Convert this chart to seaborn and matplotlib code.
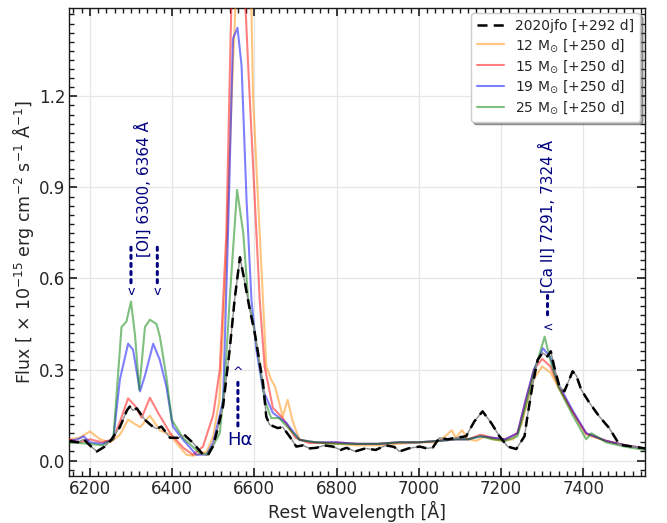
import numpy as np
import pandas as pd
import matplotlib
matplotlib.use("Agg")
import matplotlib.pyplot as plt
from matplotlib.ticker import AutoMinorLocator
import seaborn as sns

# ---------------- data ----------------
obs_wl = [6150, 6170, 6185, 6200, 6217, 6235, 6250, 6273, 6290, 6297, 6305, 6314, 6334, 6350,
          6362, 6374, 6395, 6415, 6431, 6451, 6475, 6487, 6499, 6508, 6524, 6540, 6552, 6565,
          6575, 6589, 6601, 6613, 6621, 6629, 6637, 6657, 6669, 6686, 6702, 6718, 6735, 6751,
          6770, 6791, 6810, 6824, 6845, 6870, 6895, 6920, 6940, 6953, 6975, 7002, 7020, 7034,
          7050, 7070, 7090, 7115, 7135, 7155, 7176, 7196, 7216, 7237, 7257, 7264, 7276, 7289,
          7301, 7313, 7321, 7329, 7342, 7354, 7374, 7383, 7395, 7415, 7439, 7463, 7488, 7519, 7550]
obs_flux = [0.065, 0.060, 0.070, 0.050, 0.030, 0.045, 0.065, 0.110, 0.165, 0.178, 0.165, 0.172, 0.134, 0.115,
            0.105, 0.112, 0.075, 0.075, 0.083, 0.058, 0.020, 0.017, 0.046, 0.090, 0.180, 0.365, 0.530, 0.670,
            0.600, 0.497, 0.420, 0.320, 0.257, 0.145, 0.118, 0.107, 0.110, 0.079, 0.046, 0.050, 0.040, 0.042,
            0.050, 0.046, 0.035, 0.042, 0.030, 0.040, 0.035, 0.050, 0.045, 0.030, 0.040, 0.046, 0.040, 0.043,
            0.075, 0.070, 0.075, 0.080, 0.129, 0.162, 0.124, 0.080, 0.046, 0.038, 0.080, 0.145, 0.244, 0.332,
            0.355, 0.343, 0.360, 0.310, 0.244, 0.228, 0.294, 0.280, 0.233, 0.190, 0.145, 0.107, 0.052, 0.046, 0.040]

m12_wl = [6150, 6175, 6200, 6225, 6250, 6273, 6293, 6310, 6322, 6346, 6370, 6395, 6415, 6435, 6451,
          6484, 6500, 6515, 6530, 6545, 6560, 6590, 6597, 6609, 6621, 6629, 6641, 6650, 6669, 6681,
          6693, 6710, 6740, 6800, 6850, 6900, 6950, 7000, 7040, 7060, 7080, 7090, 7105, 7120, 7140,
          7160, 7180, 7200, 7230, 7250, 7265, 7280, 7300, 7320, 7340, 7374, 7407, 7455, 7504, 7550]
m12_flux = [0.070, 0.075, 0.096, 0.070, 0.060, 0.085, 0.135, 0.120, 0.110, 0.148, 0.100, 0.085, 0.050, 0.019, 0.016,
            0.030, 0.080, 0.200, 0.600, 1.200, 1.700, 1.700, 1.190, 0.860, 0.530, 0.310, 0.266, 0.245, 0.145, 0.200,
            0.130, 0.068, 0.060, 0.055, 0.050, 0.050, 0.055, 0.060, 0.060, 0.075, 0.100, 0.075, 0.100, 0.070, 0.065,
            0.080, 0.070, 0.065, 0.070, 0.120, 0.200, 0.270, 0.310, 0.290, 0.240, 0.160, 0.085, 0.065, 0.050, 0.040]

m15_wl = [6150, 6175, 6200, 6230, 6257, 6275, 6293, 6310, 6326, 6346, 6366, 6395, 6427, 6451, 6475,
          6500, 6516, 6532, 6544, 6560, 6575, 6585, 6601, 6613, 6625, 6645, 6669, 6700, 6733, 6800,
          6850, 6900, 6950, 7000, 7050, 7090, 7120, 7150, 7180, 7210, 7240, 7260, 7280, 7300, 7320,
          7340, 7374, 7407, 7455, 7504, 7550]
m15_flux = [0.070, 0.060, 0.070, 0.060, 0.070, 0.135, 0.205, 0.180, 0.141, 0.207, 0.157, 0.091, 0.042, 0.019, 0.046,
            0.150, 0.300, 0.750, 1.500, 1.750, 1.600, 1.300, 0.860, 0.530, 0.310, 0.174, 0.140, 0.075, 0.058, 0.060,
            0.055, 0.055, 0.060, 0.060, 0.065, 0.070, 0.070, 0.085, 0.075, 0.070, 0.090, 0.200, 0.300, 0.335, 0.310,
            0.245, 0.160, 0.090, 0.065, 0.050, 0.040]

m19_wl = [6150, 6170, 6185, 6200, 6230, 6257, 6273, 6293, 6305, 6322, 6334, 6354, 6370, 6386, 6402,
          6427, 6459, 6484, 6500, 6516, 6524, 6536, 6548, 6559, 6569, 6581, 6593, 6605, 6621, 6645,
          6678, 6710, 6750, 6800, 6850, 6900, 6950, 7000, 7050, 7090, 7120, 7150, 7180, 7210, 7240,
          7260, 7280, 7302, 7320, 7340, 7374, 7407, 7455, 7504, 7550]
m19_flux = [0.065, 0.070, 0.080, 0.060, 0.055, 0.070, 0.267, 0.385, 0.365, 0.228, 0.280, 0.385, 0.332, 0.244, 0.112,
            0.068, 0.019, 0.020, 0.060, 0.150, 0.200, 0.750, 1.390, 1.426, 1.300, 0.860, 0.530, 0.365, 0.233, 0.157,
            0.124, 0.068, 0.060, 0.060, 0.055, 0.055, 0.060, 0.060, 0.065, 0.070, 0.070, 0.080, 0.075, 0.070, 0.090,
            0.200, 0.300, 0.370, 0.340, 0.250, 0.165, 0.090, 0.065, 0.050, 0.040]

m25_wl = [6150, 6200, 6230, 6257, 6277, 6289, 6300, 6310, 6320, 6334, 6346, 6362, 6370, 6386, 6399,
          6427, 6467, 6484, 6500, 6516, 6528, 6540, 6558, 6573, 6585, 6597, 6609, 6625, 6641, 6660,
          6681, 6710, 6750, 6800, 6850, 6900, 6950, 7000, 7050, 7090, 7120, 7150, 7180, 7210, 7240,
          7260, 7280, 7306, 7320, 7340, 7374, 7407, 7420, 7455, 7504, 7550]
m25_flux = [0.060, 0.055, 0.050, 0.070, 0.440, 0.458, 0.524, 0.410, 0.233, 0.440, 0.464, 0.450, 0.410, 0.277, 0.134,
            0.074, 0.025, 0.020, 0.050, 0.090, 0.257, 0.530, 0.892, 0.750, 0.530, 0.454, 0.355, 0.200, 0.140, 0.140,
            0.110, 0.068, 0.060, 0.055, 0.055, 0.055, 0.060, 0.060, 0.065, 0.070, 0.070, 0.080, 0.070, 0.065, 0.080,
            0.180, 0.290, 0.408, 0.330, 0.240, 0.150, 0.070, 0.090, 0.060, 0.045, 0.035]

labels = ["2020jfo [+292 d]", r"12 M$_{\odot}$ [+250 d]", r"15 M$_{\odot}$ [+250 d]",
          r"19 M$_{\odot}$ [+250 d]", r"25 M$_{\odot}$ [+250 d]"]
xticks = [6200, 6400, 6600, 6800, 7000, 7200, 7400]
yticks = [0.0, 0.3, 0.6, 0.9, 1.2]

# ---------------- style ----------------
sns.set_theme(style="ticks")
plt.rcParams["font.family"] = ["DejaVu Sans"]

fig = plt.figure(figsize=(6.67, 5.23), dpi=100)
ax = fig.add_axes([0.1039, 0.0904, 0.967 - 0.1039, 0.984 - 0.0904])

model_specs = [(m12_wl, m12_flux, "darkorange", labels[1]),
               (m15_wl, m15_flux, "red", labels[2]),
               (m19_wl, m19_flux, "blue", labels[3]),
               (m25_wl, m25_flux, "green", labels[4])]
for wl, fl, col, lab in model_specs:
    sns.lineplot(x=wl, y=fl, ax=ax, color=col, alpha=0.5, lw=1.5, label=lab, zorder=3)

sns.lineplot(x=obs_wl, y=obs_flux, ax=ax, color="0.55", lw=1.0, zorder=4)
sns.lineplot(x=obs_wl, y=obs_flux, ax=ax, color="black", lw=1.8, ls=(0, (4, 2.5)),
             label=labels[0], zorder=5)

ax.set_xlim(6150, 7550)
ax.set_ylim(-0.05, 1.49)
ax.set_xticks(xticks)
ax.set_yticks(yticks)
ax.xaxis.set_minor_locator(AutoMinorLocator(10))
ax.yaxis.set_minor_locator(AutoMinorLocator(10))
ax.tick_params(which="both", direction="in", top=True, right=True, colors="0.1",
               labelcolor="0.15", labelsize=12, pad=3)
ax.tick_params(which="major", length=6, width=1.2)
ax.tick_params(which="minor", length=3.5, width=1.0)
ax.grid(True, which="major", color="#e6e6e6", lw=0.9)
ax.set_axisbelow(True)
for s in ax.spines.values():
    s.set_color("0.1")
    s.set_linewidth(1.0)

ax.set_xlabel("Rest Wavelength [Å]", fontsize=12.5, color="0.15", labelpad=2)
ax.set_ylabel(r"Flux [ $\times$ 10$^{-15}$ erg cm$^{-2}$ s$^{-1}$ Å$^{-1}$]", fontsize=12.5,
              color="0.15", labelpad=2)

h, l = ax.get_legend_handles_labels()
order = [l.index(x) for x in labels]
leg = ax.legend([h[i] for i in order], [l[i] for i in order], loc="upper right",
                fontsize=10, frameon=True, shadow=True, fancybox=True, framealpha=1,
                borderaxespad=0.35, handlelength=2.0, labelspacing=0.3, borderpad=0.4)
leg.get_frame().set_edgecolor("0.8")

# ---------------- annotations ----------------
navy = "navy"
ax.text(6330, 0.672, "[OI] 6300, 6364 Å", rotation=90, ha="center", va="bottom",
        color=navy, fontsize=11)
for xl in (6300, 6364):
    ax.annotate("", xy=(xl, 0.575), xytext=(xl, 0.712),
                arrowprops=dict(arrowstyle="-", ls=":", lw=2.2, color=navy))
    ax.text(xl, 0.558, "v", ha="center", va="center", color=navy, fontsize=9)

ax.text(6565, 0.068, "Hα", ha="center", va="center", color=navy, fontsize=13)
ax.annotate("", xy=(6560, 0.275), xytext=(6560, 0.105),
            arrowprops=dict(arrowstyle="-", ls=":", lw=2.2, color=navy))
ax.text(6560, 0.29, "^", ha="center", va="center", color=navy, fontsize=9)

ax.text(7313, 0.553, "[Ca II] 7291, 7324 Å", rotation=90, ha="center", va="bottom",
        color=navy, fontsize=11)
ax.annotate("", xy=(7313, 0.455), xytext=(7313, 0.553),
            arrowprops=dict(arrowstyle="-", ls=":", lw=2.2, color=navy))
ax.text(7314, 0.44, "<", ha="center", va="center", color=navy, fontsize=9)

fig.savefig("out.png", dpi=100)
